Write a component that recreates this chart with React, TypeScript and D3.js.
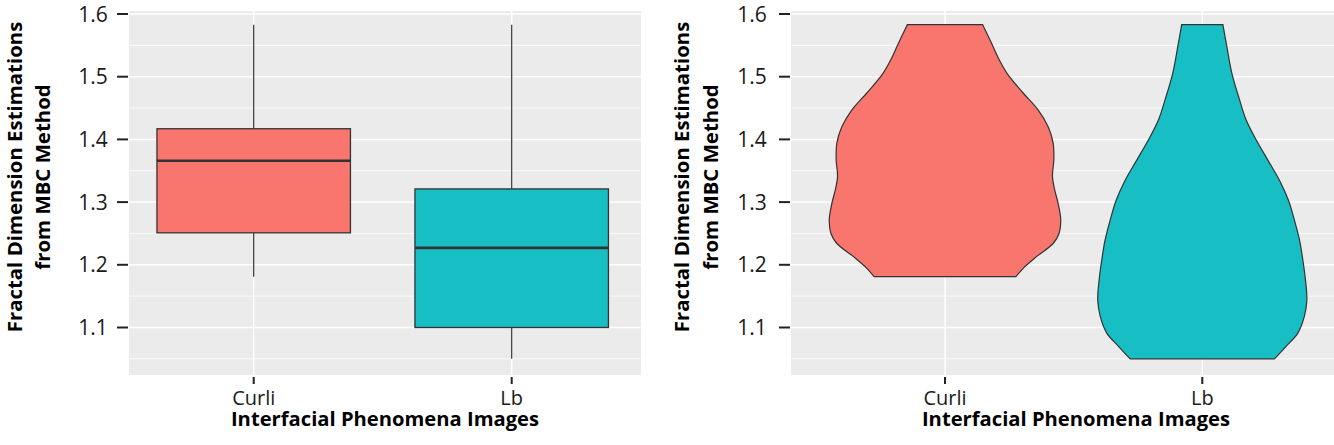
import React from "react";
import { scaleLinear, scalePoint, area, curveCatmullRom } from "d3";

// categories and box statistics
const categories = ["Curli", "Lb"];
const fills = ["#F8766D", "#17BEC4"];
const boxMin = [1.181, 1.05];
const boxQ1 = [1.251, 1.1];
const boxMedian = [1.366, 1.227];
const boxQ3 = [1.417, 1.321];
const boxMax = [1.583, 1.583];

// violin outlines: y value and relative density (max = 1)
const curliY = [1.583, 1.553, 1.527, 1.505, 1.474, 1.447, 1.42, 1.394, 1.367, 1.341, 1.319, 1.298, 1.271, 1.25, 1.234, 1.213, 1.197, 1.181];
const curliDensity = [0.325, 0.403, 0.468, 0.537, 0.675, 0.804, 0.891, 0.934, 0.94, 0.928, 0.948, 0.977, 1.0, 0.985, 0.934, 0.79, 0.69, 0.612];
const lbY = [1.583, 1.553, 1.505, 1.463, 1.431, 1.399, 1.367, 1.335, 1.303, 1.271, 1.24, 1.208, 1.176, 1.144, 1.118, 1.091, 1.07, 1.05];
const lbDensity = [0.178, 0.207, 0.256, 0.322, 0.379, 0.466, 0.566, 0.666, 0.744, 0.796, 0.839, 0.868, 0.891, 0.903, 0.882, 0.825, 0.724, 0.623];

const yTicks = [1.1, 1.2, 1.3, 1.4, 1.5, 1.6];
const yMinor = [1.05, 1.15, 1.25, 1.35, 1.45, 1.55];

const yTitle1 = "Fractal Dimension Estimations";
const yTitle2 = "from MBC Method";
const xTitle = "Interfacial Phenomena Images";

const FONT = "'Open Sans', sans-serif";
const TOP = 11;
const BOTTOM = 375;

const y = scaleLinear().domain([1.1, 1.6]).range([327.5, 14]);

function Panel({ left, right, c1, c2, titleX, labelGap, kind }) {
  const x = scalePoint().domain(categories).range([c1, c2]);
  const step = c2 - c1;
  const boxHalf = step * 0.375;
  const violinHalf = step * 0.45;
  const violins = [
    curliY.map((v, i) => ({ v, d: curliDensity[i] })),
    lbY.map((v, i) => ({ v, d: lbDensity[i] })),
  ];

  return (
    <g>
      <rect x={left} y={TOP} width={right - left} height={BOTTOM - TOP} fill="#EBEBEB" />
      {yMinor.map((t) => (
        <line key={"m" + t} x1={left} x2={right} y1={y(t)} y2={y(t)} stroke="#fff" strokeWidth={0.8} />
      ))}
      {yTicks.map((t) => (
        <line key={"g" + t} x1={left} x2={right} y1={y(t)} y2={y(t)} stroke="#fff" strokeWidth={1.5} />
      ))}
      {categories.map((c) => (
        <line key={"v" + c} x1={x(c)} x2={x(c)} y1={TOP} y2={BOTTOM} stroke="#fff" strokeWidth={1.5} />
      ))}

      {kind === "box" &&
        categories.map((c, i) => {
          const cx = x(c);
          return (
            <g key={c}>
              <line x1={cx} x2={cx} y1={y(boxMax[i])} y2={y(boxQ3[i])} stroke="#333" strokeWidth={1.2} />
              <line x1={cx} x2={cx} y1={y(boxQ1[i])} y2={y(boxMin[i])} stroke="#333" strokeWidth={1.2} />
              <rect
                x={cx - boxHalf}
                y={y(boxQ3[i])}
                width={boxHalf * 2}
                height={y(boxQ1[i]) - y(boxQ3[i])}
                fill={fills[i]}
                stroke="#333"
                strokeWidth={1.3}
              />
              <line x1={cx - boxHalf} x2={cx + boxHalf} y1={y(boxMedian[i])} y2={y(boxMedian[i])} stroke="#333" strokeWidth={2.6} />
            </g>
          );
        })}

      {kind === "violin" &&
        categories.map((c, i) => {
          const cx = x(c);
          const path = area()
            .y((d) => y(d.v))
            .x0((d) => cx - d.d * violinHalf)
            .x1((d) => cx + d.d * violinHalf)
            .curve(curveCatmullRom)(violins[i]);
          return <path key={c} d={path} fill={fills[i]} stroke="#333" strokeWidth={1.2} />;
        })}

      {/* y axis */}
      {yTicks.map((t) => (
        <g key={"t" + t}>
          <line x1={left - 12} x2={left - 1} y1={y(t)} y2={y(t)} stroke="#222" strokeWidth={2} />
          <text x={left - labelGap} y={y(t)} dy="0.36em" textAnchor="end" fontSize={21} fontFamily={FONT} fill="#1a1a1a">
            {t.toFixed(1)}
          </text>
        </g>
      ))}
      <text
        transform={`translate(${titleX},177) rotate(-90)`}
        textAnchor="middle"
        fontSize={20.4}
        fontWeight="bold"
        fontFamily={FONT}
      >
        {yTitle1}
      </text>
      <text
        transform={`translate(${titleX + 28.5},177) rotate(-90)`}
        textAnchor="middle"
        fontSize={20.4}
        fontWeight="bold"
        fontFamily={FONT}
      >
        {yTitle2}
      </text>

      {/* x axis */}
      {categories.map((c) => (
        <g key={"x" + c}>
          <line x1={x(c)} x2={x(c)} y1={377} y2={384} stroke="#222" strokeWidth={2} />
          <text x={x(c)} y={405} textAnchor="middle" fontSize={20} fontFamily={FONT} fill="#1a1a1a">
            {c}
          </text>
        </g>
      ))}
      <text x={(left + right) / 2} y={426} textAnchor="middle" fontSize={20.2} fontWeight="bold" fontFamily={FONT}>
        {xTitle}
      </text>
    </g>
  );
}

export default function App() {
  return (
    <svg width={1334} height={445} style={{ position: "absolute", left: 0, top: 0, background: "#fff" }}>
      <Panel left={129} right={641} c1={253.7} c2={511.7} titleX={21.7} labelGap={21.3} kind="box" />
      <Panel left={791} right={1361} c1={945} c2={1202.3} titleX={689.3} labelGap={24.3} kind="violin" />
    </svg>
  );
}
